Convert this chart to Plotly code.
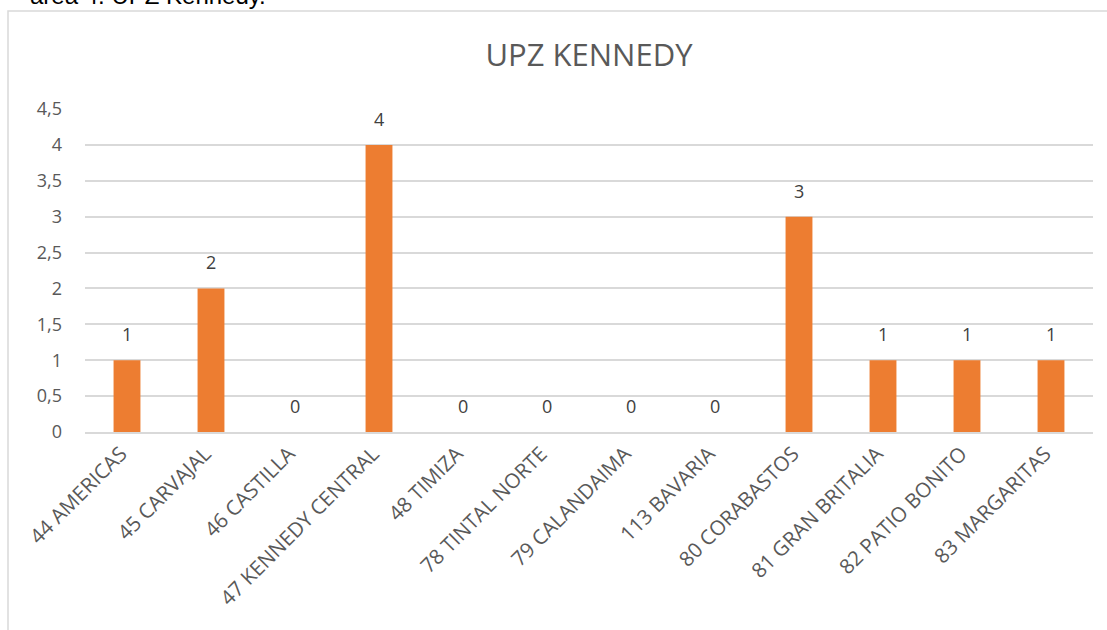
import plotly.graph_objects as go

categories = ["44 AMERICAS", "45 CARVAJAL", "46 CASTILLA", "47 KENNEDY CENTRAL",
              "48 TIMIZA", "78 TINTAL NORTE", "79 CALANDAIMA", "113 BAVARIA",
              "80 CORABASTOS", "81 GRAN BRITALIA", "82 PATIO BONITO", "83 MARGARITAS"]
values = [1, 2, 0, 4, 0, 0, 0, 0, 3, 1, 1, 1]
y_ticks = [0, 0.5, 1, 1.5, 2, 2.5, 3, 3.5, 4, 4.5]

FONT = "Open Sans"
GREY = "#595959"

fig = go.Figure(go.Bar(
    x=categories, y=values,
    marker=dict(color="#ED7D31", line=dict(width=0)),
    hoverinfo="x+y",
))

label_annotations = [
    dict(x=c, y=v, xref="x", yref="y", text=str(v), showarrow=False,
         xanchor="center", yanchor="bottom", yshift=12,
         font=dict(family=FONT, size=18, color="#404040"))
    for c, v in zip(categories, values)
]

fig.update_layout(
    width=1107, height=630,
    margin=dict(l=85, r=14, t=109, b=198),
    paper_bgcolor="white", plot_bgcolor="white",
    separators=",.",
    bargap=0.68,
    showlegend=False,
    title=dict(text="UPZ KENNEDY", x=0.5, xref="paper", xanchor="center",
               y=1 - 55 / 630, yref="container", yanchor="middle",
               font=dict(family=FONT, size=31, color=GREY)),
    xaxis=dict(tickangle=-45, tickfont=dict(family=FONT, size=20.5, color=GREY),
               showgrid=False, showline=True, linecolor="#d9d9d9", linewidth=1.5,
               ticks="", ticklabelshift=-6),
    yaxis=dict(range=[0, 4.5], tickvals=y_ticks, tickformat=",.1~f",
               tickfont=dict(family=FONT, size=18, color=GREY),
               showgrid=True, gridcolor="#d9d9d9", gridwidth=1.5,
               zeroline=False, showline=False, ticks="", ticklabelstandoff=22),
    font=dict(family=FONT, color=GREY),
    shapes=[dict(type="rect", xref="paper", yref="paper",
                 x0=-77/1008, x1=1.2, y0=-1, y1=1 + (109 - 11) / 323,
                 line=dict(color="#d9d9d9", width=1.5), fillcolor="rgba(0,0,0,0)",
                 layer="below")],
    annotations=label_annotations + [
        dict(text="área 4. UPZ Kennedy.", xref="paper", yref="paper",
             x=(268 - 85) / 1008, y=1 + (109 - 11) / 323,
             xanchor="right", yanchor="bottom",
             showarrow=False, font=dict(family="Liberation Sans", size=24, color="black"))],
)

fig.write_html("out.html", config={"displayModeBar": False},
               post_script="document.body.style.margin='0';document.body.style.overflow='hidden';")
